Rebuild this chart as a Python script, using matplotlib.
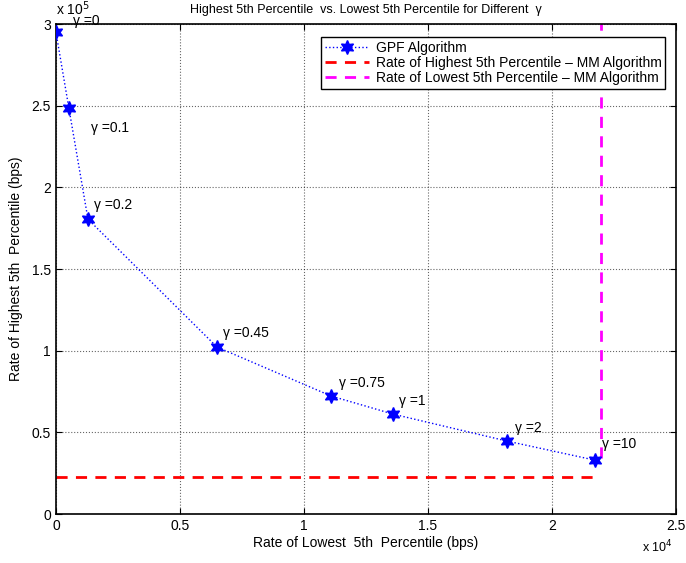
import numpy as np
import matplotlib.pyplot as plt
from matplotlib.ticker import FuncFormatter

plt.rcParams.update({
    "font.family": "Liberation Sans",
    "font.size": 10,
})

# GPF points for each gamma
gammas = ['0', '0.1', '0.2', '0.45', '0.75', '1', '2', '10']
lowest_rate = [0, 520, 1290, 6490, 11090, 13590, 18180, 21730]
highest_rate = [295000, 248600, 180600, 102300, 72300, 61200, 44700, 33000]

# label offsets (data units) for gamma annotations
label_pos = [
    (700, 302000),
    (1400, 236500),
    (1550, 189500),
    (6750, 111000),
    (11400, 80000),
    (13850, 69000),
    (18500, 52500),
    (22000, 43000),
]

# MM algorithm reference rates
mm_highest = 22600
mm_lowest = 21980
mm_x_end = 21800

fig = plt.figure(figsize=(6.86, 5.63), dpi=100)
ax = fig.add_axes([0.0816, 0.087, 0.9038, 0.870])

ax.plot(lowest_rate, highest_rate, linestyle=':', color='blue', linewidth=1,
        marker=(6, 1, 0), markersize=10, markerfacecolor='blue',
        markeredgecolor='blue', label='GPF Algorithm', zorder=5)
ax.plot([0, mm_x_end], [mm_highest, mm_highest], linestyle='--', color='red',
        linewidth=2, dashes=(4, 3), label='Rate of Highest 5th Percentile \u2013 MM Algorithm')
ax.plot([mm_lowest, mm_lowest], [highest_rate[-1] + 1500, 300000], linestyle='--',
        color='magenta', linewidth=2, dashes=(4, 3),
        label='Rate of Lowest 5th Percentile \u2013 MM Algorithm')

for g, (tx, ty) in zip(gammas, label_pos):
    ax.text(tx, ty, '\u03b3 =' + g, fontsize=10, va='center', clip_on=False)

ax.set_xlim(0, 25000)
ax.set_ylim(0, 300000)
ax.set_xticks(np.arange(0, 25001, 5000))
ax.set_yticks(np.arange(0, 300001, 50000))
ax.xaxis.set_major_formatter(FuncFormatter(lambda v, p: '%g' % (v / 1e4)))
ax.yaxis.set_major_formatter(FuncFormatter(lambda v, p: '%g' % (v / 1e5)))
ax.tick_params(direction='in', top=True, right=True, length=4, labelsize=10)
ax.grid(True, linestyle=':', color='black', linewidth=0.8, alpha=0.6)
for s in ax.spines.values():
    s.set_linewidth(1.2)

ax.text(0.0, 1.012, r'x 10$^5$', transform=ax.transAxes, fontsize=10, ha='left', va='bottom')
ax.text(0.995, -0.068, r'x 10$^4$', transform=ax.transAxes, fontsize=9, ha='right', va='center')

ax.set_xlabel('Rate of Lowest  5th  Percentile (bps)', fontsize=10, labelpad=2)
ax.set_ylabel('Rate of Highest 5th  Percentile (bps)', fontsize=10, labelpad=6)
ax.set_title('Highest 5th Percentile  vs. Lowest 5th Percentile for Different  \u03b3',
             fontsize=9, pad=8)

leg = ax.legend(loc='upper right', bbox_to_anchor=(0.994, 0.988), fontsize=10,
                fancybox=False, framealpha=1, edgecolor='black',
                borderpad=0.25, labelspacing=0.1, handlelength=3.2, handletextpad=0.5)
leg.get_frame().set_linewidth(1)

fig.savefig('out.png', dpi=100)
